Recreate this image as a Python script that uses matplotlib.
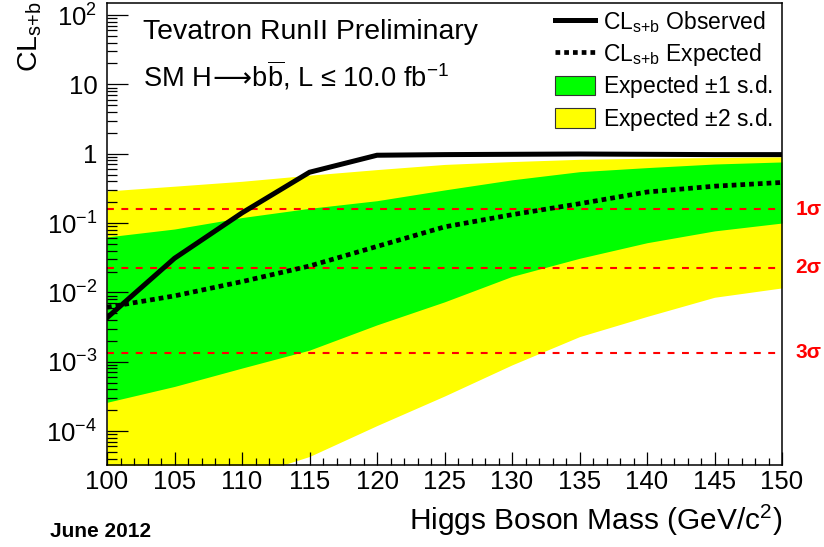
import matplotlib
matplotlib.use('Agg')
import matplotlib.pyplot as plt
from matplotlib.lines import Line2D
from matplotlib.patches import Patch
from matplotlib.ticker import FixedLocator, FixedFormatter, LogLocator, MultipleLocator, NullFormatter

plt.rcParams['font.family'] = ['Liberation Sans', 'DejaVu Sans']
plt.rcParams['mathtext.default'] = 'regular'

# Higgs mass points (GeV/c^2)
mass = [100, 105, 110, 115, 120, 125, 130, 135, 140, 145, 150]

# CL_s+b observed / expected
cl_obs = [0.0043, 0.031, 0.14, 0.54, 0.95, 0.97, 0.98, 0.99, 0.98, 0.97, 0.97]
cl_exp = [0.0061, 0.0089, 0.0143, 0.024, 0.046, 0.088, 0.132, 0.19, 0.28, 0.34, 0.385]

# +-1 s.d. band
band1_lo = [2.6e-4, 4.4e-4, 8.1e-4, 1.47e-3, 3.4e-3, 7.3e-3, 0.017, 0.031, 0.052, 0.077, 0.10]
band1_hi = [0.063, 0.082, 0.12, 0.163, 0.21, 0.30, 0.42, 0.55, 0.63, 0.71, 0.76]
# +-2 s.d. band
band2_lo = [3e-6, 7e-6, 2.1e-5, 4.3e-5, 1.2e-4, 3.2e-4, 9e-4, 2.3e-3, 4.5e-3, 8.5e-3, 0.0116]
band2_hi = [0.29, 0.34, 0.40, 0.49, 0.59, 0.70, 0.77, 0.83, 0.86, 0.88, 0.90]

# one-sided p-values for 1,2,3 sigma
sigma_p = [0.1587, 0.02275, 0.00135]
sigma_txt = ['1\u03c3', '2\u03c3', '3\u03c3']

ytick_vals = [1e-4, 1e-3, 1e-2, 1e-1, 1, 10, 100]
ytick_lbls = ['10$^{-4}$', '10$^{-3}$', '10$^{-2}$', '10$^{-1}$', '1', '10', '10$^{2}$']

f = plt.figure(figsize=(8.24, 5.47), dpi=100)
ax = f.add_axes([107/824, 1-465/547, (782-107)/824, (465-3)/547])

ax.fill_between(mass, band2_lo, band2_hi, color='#ffff00', lw=0)
ax.fill_between(mass, band1_lo, band1_hi, color='#00ff00', lw=0)

for p, t in zip(sigma_p, sigma_txt):
    ax.axhline(p, color='#ff0000', lw=1.5, linestyle=(0, (3.3, 3.6)))
    ax.text(1.02, p, t, transform=ax.get_yaxis_transform(), color='#ff0000',
            fontsize=15, fontweight='bold', va='center', ha='left')

ax.plot(mass, cl_exp, color='black', lw=3.4, linestyle=(0, (1, 0.85)), dash_capstyle='butt')
ax.plot(mass, cl_obs, color='black', lw=3.6, solid_joinstyle='miter')

ax.set_yscale('log')
ax.set_xlim(100, 150)
ax.set_ylim(3.24e-5, 149)

ax.xaxis.set_major_locator(MultipleLocator(5))
ax.xaxis.set_minor_locator(MultipleLocator(1))
ax.yaxis.set_major_locator(FixedLocator(ytick_vals))
ax.yaxis.set_major_formatter(FixedFormatter(ytick_lbls))
ax.yaxis.set_minor_locator(LogLocator(base=10, subs=[2, 3, 4, 5, 6, 7, 8, 9], numticks=20))
ax.yaxis.set_minor_formatter(NullFormatter())

ax.tick_params(which='both', direction='in', top=False, right=False, width=0.9)
ax.tick_params(axis='x', which='major', length=9.4, pad=3.5, labelsize=18.5)
ax.tick_params(axis='x', which='minor', length=4.7)
ax.tick_params(axis='y', which='major', length=15, pad=7, labelsize=18.5)
ax.tick_params(axis='y', which='minor', length=7.5)
for s in ax.spines.values():
    s.set_linewidth(1.1)

f.text(782/824, 1-530/547, 'Higgs Boson Mass (GeV/c$^{2}$)', ha='right', va='baseline', fontsize=21.5)
f.text(30/824, 1-1/547, 'CL$_{s{+}b}$', rotation=90, ha='center', va='top', fontsize=20.5)
f.text(50/824, 1-537/547, 'June 2012', fontsize=15, fontweight='bold', va='baseline')

f.text(143/824, 1-39/547, 'Tevatron RunII Preliminary', fontsize=20.4, va='baseline')
f.text(143/824, 1-86/547, 'SM H$\\!\\mathrm{\\longrightarrow}\\!$b$\\overline{b}$, L \u2264 10.0 fb$^{-1}$',
       fontsize=19.6, va='baseline')

handles = [Line2D([], [], color='black', lw=3.6),
           Line2D([], [], color='black', lw=3.4, linestyle=(0, (1, 0.85))),
           Patch(facecolor='#00ff00', edgecolor='#333333', lw=0.8),
           Patch(facecolor='#ffff00', edgecolor='#333333', lw=0.8)]
labels = ['CL$_{s{+}b}$ Observed', 'CL$_{s{+}b}$ Expected', 'Expected $\\pm$1 s.d.', 'Expected $\\pm$2 s.d.']
f.legend(handles, labels, loc='upper left', bbox_to_anchor=(555/824, 1-9/547),
         frameon=False, fontsize=16.5, borderpad=0, borderaxespad=0,
         handlelength=1.75, handleheight=0.95, handletextpad=0.35, labelspacing=0.25)

plt.savefig('out.png', dpi=100)
